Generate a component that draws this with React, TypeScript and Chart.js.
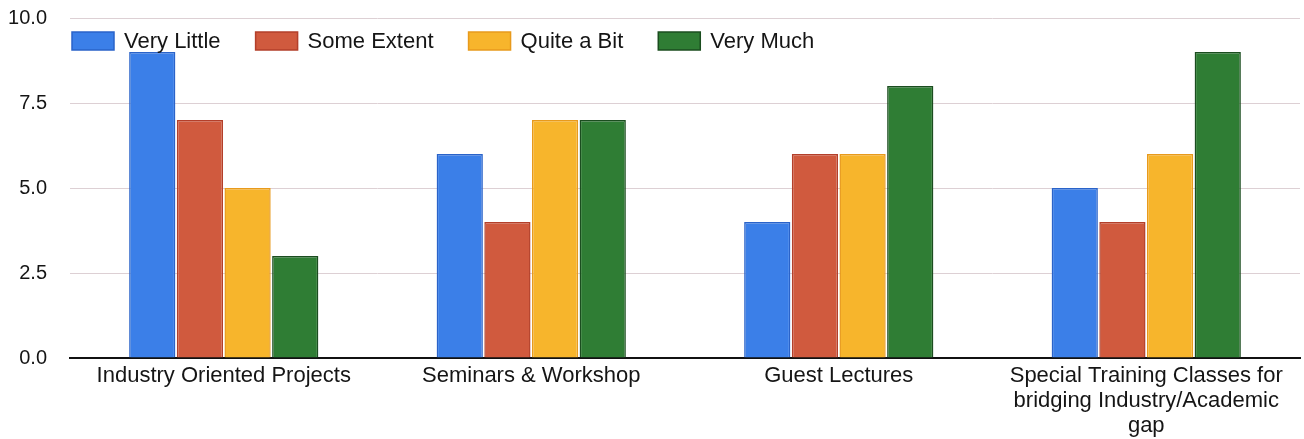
import React, { useEffect, useRef } from "react";
import { Chart, registerables } from "chart.js";

Chart.register(...registerables);

const categories: (string | string[])[] = [
  "Industry Oriented Projects",
  "Seminars & Workshop",
  "Guest Lectures",
  ["Special Training Classes for", "bridging Industry/Academic", "gap"],
];
const seriesNames = ["Very Little", "Some Extent", "Quite a Bit", "Very Much"];
const veryLittle = [9, 6, 4, 5];
const someExtent = [7, 4, 6, 4];
const quiteABit = [5, 7, 6, 6];
const veryMuch = [3, 7, 8, 9];
const yTicks = [0, 2.5, 5, 7.5, 10];

const fills = ["#3b7fe8", "#d05a3e", "#f7b52c", "#2f7d34"];
const borders = ["#2a63c9", "#b33f2a", "#e89a1c", "#1b4d1f"];
const FONT = "'Liberation Sans', Arial, sans-serif";

const legendPlugin = {
  id: "customLegend",
  afterDatasetsDraw(chart: any) {
    const ctx = chart.ctx;
    const area = chart.chartArea;
    let x = area.left + 2;
    const cy = area.top + 23;
    ctx.save();
    ctx.font = `22px ${FONT}`;
    ctx.textBaseline = "middle";
    ctx.textAlign = "left";
    chart.data.datasets.forEach((ds: any, i: number) => {
      ctx.fillStyle = fills[i];
      ctx.strokeStyle = borders[i];
      ctx.lineWidth = 1.5;
      ctx.fillRect(x, cy - 9, 42, 18);
      ctx.strokeRect(x, cy - 9, 42, 18);
      x += 42 + 10;
      ctx.fillStyle = "#151515";
      ctx.fillText(ds.label, x, cy + 1);
      x += ctx.measureText(ds.label).width + 35;
    });
    ctx.restore();
  },
};

export default function App() {
  const ref = useRef<HTMLCanvasElement | null>(null);
  useEffect(() => {
    if (!ref.current) return;
    const values = [veryLittle, someExtent, quiteABit, veryMuch];
    const chart = new Chart(ref.current, {
      type: "bar",
      data: {
        labels: categories,
        datasets: seriesNames.map((name, i) => ({
          label: name,
          data: values[i],
          backgroundColor: fills[i],
          borderColor: borders[i],
          borderWidth: 1.5,
          categoryPercentage: 0.62,
          barPercentage: 0.97,
        })),
      },
      options: {
        animation: false,
        responsive: false,
        maintainAspectRatio: false,
        layout: { padding: { top: 18, right: 4, left: 0, bottom: 0 } },
        plugins: { legend: { display: false }, tooltip: { enabled: false } },
        scales: {
          x: {
            grid: { display: false, drawTicks: false },
            border: { display: true, color: "#111", width: 2 },
            ticks: {
              color: "#151515",
              font: { family: FONT, size: 22, lineHeight: 1.12 },
              padding: 6,
              maxRotation: 0,
              autoSkip: false,
            },
            afterFit(scale: any) {
              scale.height = 81;
              scale.paddingLeft = 0;
              scale.paddingRight = 0;
            },
          },
          y: {
            min: 0,
            max: 10,
            afterBuildTicks(scale: any) {
              scale.ticks = yTicks.map((v) => ({ value: v }));
            },
            grid: { color: "#ddd0d4", lineWidth: 1, drawTicks: false },
            border: { display: false },
            ticks: {
              color: "#151515",
              font: { family: FONT, size: 20 },
              padding: 23,
              callback: (v: any) => Number(v).toFixed(1),
            },
            afterFit(scale: any) {
              scale.width = 70;
              scale.paddingTop = 0;
              scale.paddingBottom = 0;
            },
          },
        },
      },
      plugins: [legendPlugin],
    });
    return () => chart.destroy();
  }, []);
  return (
    <div style={{ position: "fixed", left: 0, top: 0, width: 1304, height: 439, background: "#fff" }}>
      <canvas ref={ref} width={1304} height={439} style={{ width: 1304, height: 439, display: "block" }} />
    </div>
  );
}
